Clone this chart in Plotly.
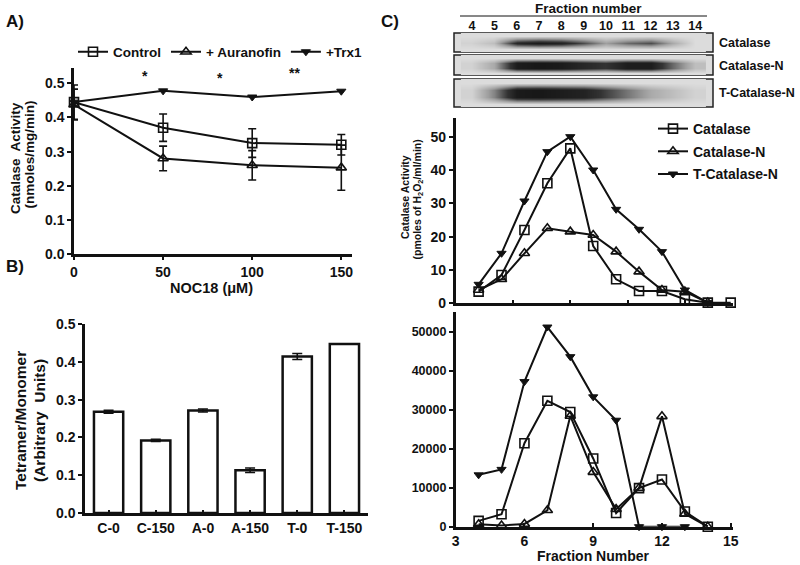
import plotly.graph_objects as go

# ---------------- data ----------------
# Panel A
noc = [0, 50, 100, 150]
control = [0.445, 0.37, 0.325, 0.32]
control_err = [0.05, 0.04, 0.042, 0.03]
auranofin = [0.438, 0.28, 0.26, 0.253]
auranofin_err = [0.045, 0.036, 0.043, 0.066]
trx1 = [0.445, 0.478, 0.46, 0.477]
stars_x = [40, 82, 124]
stars_y = [0.523, 0.515, 0.53]
stars_txt = ["*", "*", "**"]

# Panel B
groups = ["C-0", "C-150", "A-0", "A-150", "T-0", "T-150"]
ratio = [0.268, 0.192, 0.271, 0.113, 0.414, 0.447]
ratio_err = [0.004, 0.003, 0.004, 0.006, 0.008, 0.0]

# Panel C blots (band intensity per fraction)
blot_fractions = [4, 5, 6, 7, 8, 9, 10, 11, 12, 13, 14]
blot_labels = ["4", "5", "6", "7", "8", "9", "10", "11", "12", "13", "14"]
band_catalase = [0.05, 0.15, 0.8, 0.92, 0.85, 0.6, 0.3, 0.5, 0.6, 0.25, 0.0]
band_catalase_n = [0.05, 0.25, 0.9, 0.95, 0.92, 0.8, 0.7, 0.9, 0.9, 0.5, 0.15]
band_tcatalase_n = [0.05, 0.4, 0.92, 0.95, 0.9, 0.85, 0.65, 0.45, 0.25, 0.15, 0.05]
blank = [0] * 11

# Panel C middle (pmoles H2O2/ml/min)
mid_frac_cat = [4, 5, 6, 7, 8, 9, 10, 11, 12, 13, 14, 15]
mid_cat = [3.5, 8.5, 22, 36, 46.5, 17.2, 7.2, 3.7, 3.7, 1.2, 0.2, 0.2]
mid_frac = [4, 5, 6, 7, 8, 9, 10, 11, 12, 13, 14]
mid_cat_n = [4, 7.2, 15, 22.5, 21.5, 20.5, 15.5, 9.5, 4, 3.5, 0.2]
mid_tcat_n = [5.7, 15, 30.7, 45.5, 50, 40, 28.2, 22.2, 15.5, 4, 0.2]

# Panel C bottom
bot_frac = [4, 5, 6, 7, 8, 9, 10, 11, 12, 13, 14]
bot_cat = [1500, 3200, 21400, 32300, 29400, 17500, 3500, 9900, 12100, 3900, 0]
bot_cat_n = [600, 300, 700, 4200, 28400, 14000, 4500, 9900, 28300, 3300, 0]
bot_frac_t = [4, 5, 6, 7, 8, 9, 10, 11, 12, 13]
bot_tcat_n = [13300, 14700, 37200, 51200, 43600, 33300, 27300, 0, 0, 0]

W, H = 800, 565
def px(x):
    return x / W
def py(y):
    return 1 - y / H

FONT = "Liberation Sans, Arial, sans-serif"
BLACK = "#111111"

def fnt(size):
    return dict(size=size, family=FONT, color=BLACK, weight="bold")

fig = go.Figure()

line_kw = dict(color=BLACK, width=2)
sq = dict(symbol="square-open", size=9, color=BLACK, line=dict(color=BLACK, width=1.6))
tu = dict(symbol="triangle-up-open", size=9, color=BLACK, line=dict(color=BLACK, width=1.6))
td = dict(symbol="triangle-down", size=8, color=BLACK, line=dict(color=BLACK, width=1))
err = lambda a: dict(type="data", array=a, color=BLACK, thickness=1.6, width=4)

# ---- Panel A ----
fig.add_trace(go.Scatter(x=noc, y=control, name="Control", mode="lines+markers",
                         line=line_kw, marker=sq, error_y=err(control_err),
                         xaxis="x", yaxis="y", cliponaxis=False, legend="legend"))
fig.add_trace(go.Scatter(x=noc, y=auranofin, name="+ Auranofin", mode="lines+markers",
                         line=line_kw, marker=tu, error_y=err(auranofin_err),
                         xaxis="x", yaxis="y", cliponaxis=False, legend="legend"))
fig.add_trace(go.Scatter(x=noc, y=trx1, name="+Trx1", mode="lines+markers",
                         line=line_kw, marker=td,
                         xaxis="x", yaxis="y", cliponaxis=False, legend="legend"))

# ---- Panel B ----
fig.add_trace(go.Bar(x=groups, y=ratio, width=0.62,
                     marker=dict(color="white", line=dict(color=BLACK, width=2.5)),
                     error_y=dict(type="data", array=ratio_err, color=BLACK, thickness=1.6, width=5),
                     xaxis="x2", yaxis="y2", showlegend=False))

# ---- Panel C blots ----
blot_cs = [[0, "#dcdcdc"], [0.3, "#a0a0a0"], [0.7, "#333333"], [1, "#121212"]]
for ax, rows in (("3", [blank, band_catalase, blank]),
                 ("4", [blank, band_catalase_n, band_catalase_n, blank]),
                 ("5", [blank, band_tcatalase_n, band_tcatalase_n, blank])):
    fig.add_trace(go.Heatmap(x=blot_fractions, y=list(range(len(rows))), z=rows,
                             zmin=0, zmax=1, zsmooth="best", colorscale=blot_cs,
                             showscale=False, hoverinfo="skip",
                             xaxis="x" + ax, yaxis="y" + ax))

# ---- Panel C middle ----
fig.add_trace(go.Scatter(x=mid_frac_cat, y=mid_cat, name="Catalase", mode="lines+markers",
                         line=line_kw, marker=sq, xaxis="x6", yaxis="y6", legendgroup="g1",
                         cliponaxis=False, legend="legend2"))
fig.add_trace(go.Scatter(x=mid_frac, y=mid_cat_n, name="Catalase-N", mode="lines+markers",
                         line=line_kw, marker=tu, xaxis="x6", yaxis="y6", legendgroup="g2",
                         cliponaxis=False, legend="legend2"))
fig.add_trace(go.Scatter(x=mid_frac, y=mid_tcat_n, name="T-Catalase-N", mode="lines+markers",
                         line=line_kw, marker=td, xaxis="x6", yaxis="y6", legendgroup="g3",
                         cliponaxis=False, legend="legend2"))

# ---- Panel C bottom ----
fig.add_trace(go.Scatter(x=bot_frac, y=bot_cat, mode="lines+markers", line=line_kw, marker=sq,
                         xaxis="x7", yaxis="y7", cliponaxis=False, showlegend=False))
fig.add_trace(go.Scatter(x=bot_frac, y=bot_cat_n, mode="lines+markers", line=line_kw, marker=tu,
                         xaxis="x7", yaxis="y7", cliponaxis=False, showlegend=False))
fig.add_trace(go.Scatter(x=bot_frac_t, y=bot_tcat_n, mode="lines+markers", line=line_kw, marker=td,
                         xaxis="x7", yaxis="y7", cliponaxis=False, showlegend=False))

axis_common = dict(showgrid=False, zeroline=False, showline=True, linecolor=BLACK,
                   linewidth=2.5, tickcolor=BLACK, tickwidth=2, ticklen=4, automargin=False,
                   tickfont=fnt(13))
hidden = dict(visible=False, showgrid=False, zeroline=False, automargin=False)

fig.update_layout(
    template="none",
    width=W, height=H, margin=dict(l=0, r=0, t=0, b=0, pad=0, autoexpand=False),
    paper_bgcolor="white", plot_bgcolor="white",
    font=dict(family=FONT, size=12, color=BLACK, weight="bold"),
    # Panel A
    xaxis=dict(axis_common, domain=[px(74), px(352)], range=[0, 156], anchor="y",
               tickvals=noc, ticks="outside", ticklen=3, tickfont=fnt(14)),
    yaxis=dict(axis_common, domain=[py(254), py(68)], range=[0, 0.545], anchor="x",
               tickvals=[0, 0.1, 0.2, 0.3, 0.4, 0.5], tickformat=".1f", ticks="outside",
               tickfont=fnt(14)),
    # Panel B
    xaxis2=dict(axis_common, domain=[px(85), px(368)], range=[-0.5, 5.5], anchor="y2",
                ticks="inside", ticklen=3, tickfont=fnt(14)),
    yaxis2=dict(axis_common, domain=[py(513), py(324)], range=[0, 0.5], anchor="x2",
                tickvals=[0, 0.1, 0.2, 0.3, 0.4, 0.5], tickformat=".1f", ticks="outside",
                tickfont=fnt(14)),
    # Blots
    xaxis3=dict(domain=[px(454), px(713)], range=[3.19, 14.8], anchor="y3", side="top",
                showgrid=False, zeroline=False, showline=False, ticks="", automargin=False,
                tickvals=blot_fractions, ticktext=blot_labels, tickfont=fnt(12.5)),
    yaxis3=dict(hidden, domain=[py(52), py(33)], range=[-0.5, 2.5], anchor="x3"),
    xaxis4=dict(hidden, domain=[px(454), px(713)], range=[3.19, 14.8], anchor="y4"),
    yaxis4=dict(hidden, domain=[py(75), py(55)], range=[-0.5, 3.5], anchor="x4"),
    xaxis5=dict(hidden, domain=[px(454), px(713)], range=[3.19, 14.8], anchor="y5"),
    yaxis5=dict(hidden, domain=[py(107), py(79)], range=[-0.5, 3.5], anchor="x5"),
    # C middle
    xaxis6=dict(axis_common, domain=[px(455.7), px(733)], range=[3, 15.1], anchor="y6",
                tickvals=[5.5, 8, 10.5, 13], ticks="inside", showticklabels=False),
    yaxis6=dict(axis_common, domain=[py(303.3), py(118)], range=[0, 55.6], anchor="x6",
                tickvals=[0, 10, 20, 30, 40, 50], ticks="outside", tickfont=fnt(14)),
    # C bottom
    xaxis7=dict(axis_common, domain=[px(455.7), px(733)], range=[3, 15.1], anchor="y7",
                tickvals=[3, 6, 9, 12, 15], ticks="inside", tickfont=fnt(14)),
    yaxis7=dict(axis_common, domain=[py(526.7), py(311.7)], range=[0, 55130], anchor="x7",
                tickvals=[0, 10000, 20000, 30000, 40000, 50000], tickformat="d",
                ticks="outside", tickfont=fnt(12.5)),
    legend=dict(orientation="h", x=px(73), xanchor="left", y=py(52), yanchor="middle",
                font=fnt(13.5), bgcolor="rgba(0,0,0,0)", itemwidth=30, tracegroupgap=0),
    legend2=dict(orientation="v", x=px(653), xanchor="left", y=py(113), yanchor="top",
                 font=fnt(14), bgcolor="rgba(0,0,0,0)", itemwidth=30, tracegroupgap=1.5),
)

# blot frames
for ax in ("3", "4", "5"):
    fig.add_shape(type="rect", xref="x%s domain" % ax, yref="y%s domain" % ax,
                  x0=0, x1=1, y0=0, y1=1, line=dict(color="#222", width=1.5),
                  fillcolor="#dcdcdc", layer="below")
# underline of "Fraction number"
fig.add_shape(type="line", xref="paper", yref="paper", x0=px(460), x1=px(707),
              y0=py(16), y1=py(16), line=dict(color=BLACK, width=1))

annos = []
def ann(text, x, y, size, xanchor="center", **kw):
    d = dict(text=text, x=px(x), y=py(y), xref="paper", yref="paper", showarrow=False,
             xanchor=xanchor, yanchor="middle", font=fnt(size))
    d.update(kw)
    annos.append(d)

ann("A)", 15, 22, 17)
ann("B)", 15, 266, 17)
ann("C)", 390, 22, 17)
ann("Catalase  Activity", 15, 158, 13.5, textangle=-90)
ann("(nmoles/mg/min)", 28.5, 154, 13.5, textangle=-90)
ann("NOC18 (μM)", 211, 288, 14.5)
ann("Tetramer/Monomer", 20, 421, 15.5, textangle=-90)
ann("(Arbitrary  Units)", 39, 421, 15.5, textangle=-90)
ann("Fraction number", 588, 9, 13.5)
ann("Catalase", 717, 43, 12.5, xanchor="left")
ann("Catalase-N", 717, 66, 12.5, xanchor="left")
ann("T-Catalase-N", 717, 93, 12.5, xanchor="left")
ann("Catalase Activity", 405, 197, 10.5, textangle=-90)
ann("(pmoles of H<sub>2</sub>O<sub>2</sub>/ml/min)", 417.5, 200, 10.5, textangle=-90)
ann("Fraction Number", 593, 556, 14)
for sx, sy, st in zip(stars_x, stars_y, stars_txt):
    annos.append(dict(text=st, x=sx, y=sy, xref="x", yref="y", showarrow=False,
                      xanchor="center", yanchor="middle", font=fnt(14)))
fig.update_layout(annotations=annos)

fig.write_html("out.html", config={"displayModeBar": False},
               post_script="document.body.style.margin='0px';")
